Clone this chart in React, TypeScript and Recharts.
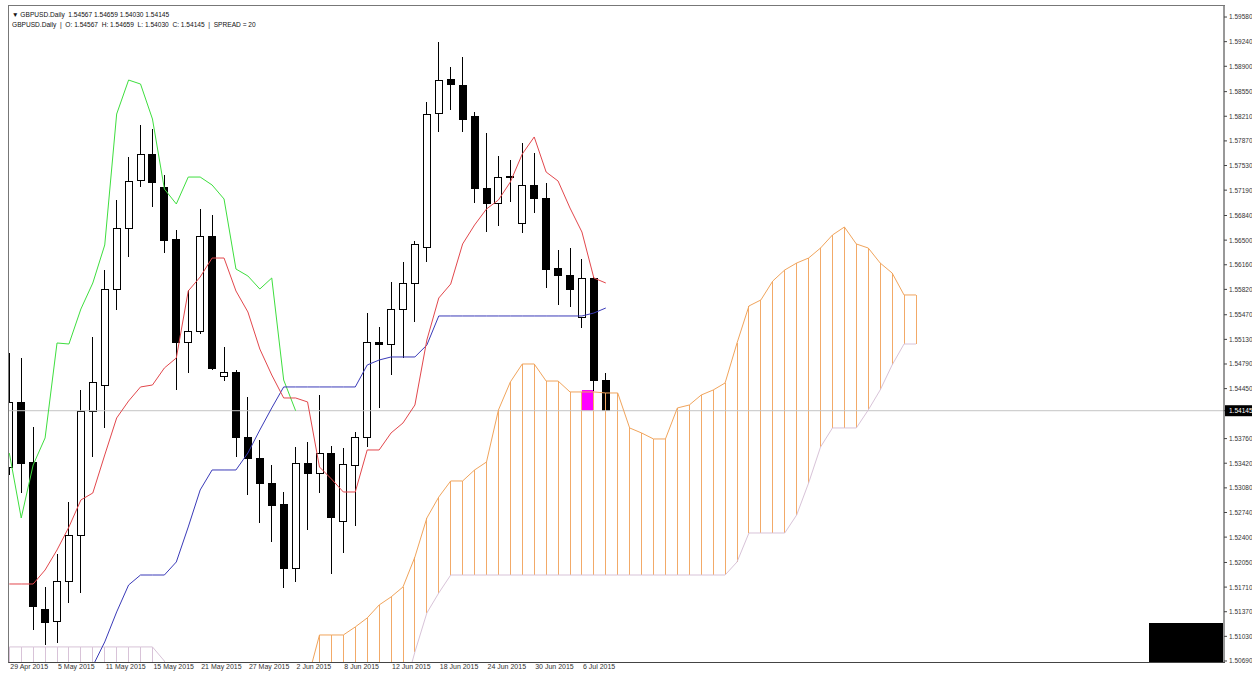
import React from 'react';
import { ComposedChart, Bar, Line, XAxis, YAxis, ReferenceLine, ReferenceArea } from 'recharts';

// ---- Date axis ----
const dateLabels = ['29 Apr 2015', '5 May 2015', '11 May 2015', '15 May 2015', '21 May 2015', '27 May 2015', '2 Jun 2015', '8 Jun 2015', '12 Jun 2015', '18 Jun 2015', '24 Jun 2015', '30 Jun 2015', '6 Jul 2015'];
const dateTickBars = [0, 4, 8, 12, 16, 20, 24, 28, 32, 36, 40, 44, 48];

// ---- Daily candles (bar 0 = 29 Apr 2015) ----
const openPrices = [1.53368, 1.54252, 1.53437, 1.51394, 1.51229, 1.51781, 1.52416, 1.54141, 1.54500, 1.55812, 1.56654, 1.57330, 1.57689, 1.57233, 1.56502, 1.55080, 1.55232, 1.56557, 1.54611, 1.54666, 1.53782, 1.53492, 1.53147, 1.52857, 1.51960, 1.53410, 1.53285, 1.53561, 1.52609, 1.53382, 1.53769, 1.55080, 1.55066, 1.55549, 1.55908, 1.56405, 1.58255, 1.58724, 1.58641, 1.58200, 1.57206, 1.56999, 1.57385, 1.56736, 1.57261, 1.57068, 1.56115, 1.56005, 1.55425, 1.55977, 1.54567];
const highPrices = [1.54942, 1.54873, 1.53920, 1.51712, 1.52167, 1.52885, 1.54431, 1.55163, 1.56088, 1.57054, 1.57647, 1.58089, 1.58034, 1.57399, 1.56640, 1.55812, 1.56930, 1.56847, 1.55025, 1.54707, 1.54335, 1.53741, 1.53396, 1.53023, 1.53644, 1.53713, 1.54362, 1.53658, 1.53631, 1.53851, 1.55494, 1.55301, 1.55922, 1.56198, 1.56488, 1.58407, 1.59235, 1.58890, 1.59028, 1.58269, 1.57979, 1.57661, 1.57606, 1.57841, 1.57703, 1.57289, 1.56364, 1.56391, 1.56239, 1.55991, 1.54659];
const lowPrices = [1.53258, 1.53009, 1.51118, 1.50911, 1.50939, 1.51491, 1.51629, 1.53506, 1.53907, 1.55535, 1.56267, 1.57233, 1.56957, 1.56322, 1.54431, 1.54666, 1.55204, 1.54707, 1.54555, 1.53506, 1.52982, 1.52595, 1.52333, 1.51698, 1.51781, 1.52499, 1.53009, 1.51891, 1.52181, 1.52554, 1.53644, 1.54183, 1.54638, 1.54873, 1.55370, 1.56198, 1.57993, 1.58296, 1.57993, 1.57012, 1.56612, 1.56695, 1.57026, 1.56598, 1.56874, 1.55839, 1.55604, 1.55577, 1.55287, 1.54417, 1.54030];
const closePrices = [1.54252, 1.53423, 1.51436, 1.51215, 1.51781, 1.52416, 1.54141, 1.54528, 1.55812, 1.56654, 1.57316, 1.57689, 1.57302, 1.56488, 1.55080, 1.55232, 1.56557, 1.54721, 1.54666, 1.53769, 1.53492, 1.53147, 1.52830, 1.51960, 1.53410, 1.53285, 1.53561, 1.52664, 1.53396, 1.53769, 1.55080, 1.55066, 1.55549, 1.55908, 1.56433, 1.58241, 1.58710, 1.58655, 1.58172, 1.57206, 1.56999, 1.57371, 1.57371, 1.57261, 1.57068, 1.56101, 1.56005, 1.55825, 1.55977, 1.54569, 1.54145];

// ---- Ichimoku lines ----
const tenkanSen = [1.51753, 1.51753, 1.51753, 1.51946, 1.52223, 1.52540, 1.52913, 1.53009, 1.53534, 1.54045, 1.54279, 1.54473, 1.54500, 1.54735, 1.54873, 1.55798, 1.55991, 1.56253, 1.56253, 1.55798, 1.55508, 1.54997, 1.54638, 1.54321, 1.54321, 1.54266, 1.53368, 1.53203, 1.53023, 1.53023, 1.53603, 1.53603, 1.53838, 1.53976, 1.54224, 1.55121, 1.55701, 1.55894, 1.56447, 1.56709, 1.56930, 1.57054, 1.57302, 1.57689, 1.57924, 1.57440, 1.57316, 1.56943, 1.56612, 1.55977, 1.55908];
const kijunStart = 7;
const kijunSen = [1.50621, 1.50953, 1.51367, 1.51739, 1.51877, 1.51877, 1.51877, 1.52057, 1.52540, 1.53051, 1.53327, 1.53327, 1.53327, 1.53561, 1.53879, 1.54183, 1.54473, 1.54473, 1.54473, 1.54473, 1.54473, 1.54473, 1.54473, 1.54776, 1.54845, 1.54887, 1.54887, 1.54887, 1.55052, 1.55453, 1.55453, 1.55453, 1.55453, 1.55453, 1.55453, 1.55453, 1.55453, 1.55453, 1.55453, 1.55453, 1.55453, 1.55453, 1.55494, 1.55563];
const chikouSpan = [1.53561, 1.52664, 1.53396, 1.53769, 1.55080, 1.55066, 1.55549, 1.55908, 1.56433, 1.58241, 1.58710, 1.58655, 1.58172, 1.57206, 1.56999, 1.57371, 1.57371, 1.57261, 1.57068, 1.56101, 1.56005, 1.55825, 1.55977, 1.54569, 1.54145];
const senkouAStart = 25;
const senkouA = [1.50428, 1.51049, 1.51049, 1.51049, 1.51160, 1.51284, 1.51463, 1.51574, 1.51712, 1.52126, 1.52664, 1.52954, 1.53175, 1.53175, 1.53327, 1.53437, 1.54155, 1.54542, 1.54790, 1.54790, 1.54555, 1.54555, 1.54404, 1.54404, 1.54404, 1.54390, 1.54390, 1.53907, 1.53838, 1.53755, 1.53755, 1.54183, 1.54224, 1.54362, 1.54431, 1.54528, 1.55080, 1.55591, 1.55674, 1.55936, 1.56088, 1.56184, 1.56253, 1.56391, 1.56571, 1.56681, 1.56447, 1.56391, 1.56184, 1.56046, 1.55743, 1.55743];
const senkouBLeft = [1.50884, 1.50884, 1.50884, 1.50884, 1.50884, 1.50884, 1.50884, 1.50884, 1.50884, 1.50884, 1.50884, 1.50884, 1.50884, 1.50690];
const senkouBRightStart = 33;
const senkouBRight = [1.50221, 1.50815, 1.51353, 1.51629, 1.51877, 1.51877, 1.51877, 1.51877, 1.51877, 1.51877, 1.51877, 1.51877, 1.51877, 1.51877, 1.51877, 1.51877, 1.51877, 1.51877, 1.51877, 1.51877, 1.51877, 1.51877, 1.51877, 1.51877, 1.51877, 1.51877, 1.51877, 1.51877, 1.52057, 1.52457, 1.52457, 1.52457, 1.52457, 1.52706, 1.53147, 1.53644, 1.53907, 1.53907, 1.53907, 1.54155, 1.54431, 1.54776, 1.55066, 1.55066];
const cloudBars = 77;

// ---- Price axis ----
const priceTicks = [1.59580, 1.59240, 1.58900, 1.58550, 1.58210, 1.57870, 1.57530, 1.57190, 1.56840, 1.56500, 1.56160, 1.55820, 1.55470, 1.55130, 1.54790, 1.54450, 1.54145, 1.53760, 1.53420, 1.53080, 1.52740, 1.52400, 1.52050, 1.51710, 1.51370, 1.51030, 1.50690];
const lastPrice = 1.54145;
const markerTop = 1.54431;
const markerBars = [48, 49];
const yDomain = [1.50676, 1.59746];
const xDomain = [-0.109, 101.82];

const FONT = '"Liberation Sans", Arial, sans-serif';
const SANDY_LINE = '#f0a45c';
const SANDY_HATCH = '#f2aa68';
const THISTLE = '#d8c3d8';

const rows = Array.from({ length: cloudBars }, (_, i) => {
  const hasCandle = i < openPrices.length;
  const a = i >= senkouAStart ? senkouA[i - senkouAStart] : null;
  let b: number | null = null;
  if (i < senkouBLeft.length) b = senkouBLeft[i];
  else if (i >= senkouBRightStart) b = senkouBRight[i - senkouBRightStart];
  const vals = [a, b].filter((v) => v != null) as number[];
  let cloud: number[] | null = null;
  if (vals.length) {
    const hi = Math.max(...vals);
    const lo = vals.length === 2 ? Math.max(Math.min(...vals), yDomain[0]) : yDomain[0];
    if (hi > yDomain[0]) cloud = [lo, hi];
  }
  const aboveB = a != null && (b == null || a >= b);
  return {
    i,
    o: hasCandle ? openPrices[i] : null,
    h: hasCandle ? highPrices[i] : null,
    l: hasCandle ? lowPrices[i] : null,
    c: hasCandle ? closePrices[i] : null,
    candle: hasCandle ? [lowPrices[i], highPrices[i]] : null,
    tenkan: hasCandle ? tenkanSen[i] : null,
    kijun: hasCandle && i >= kijunStart ? kijunSen[i - kijunStart] : null,
    chikou: i < chikouSpan.length ? chikouSpan[i] : null,
    sa: a,
    sb: b,
    cloudUp: cloud && aboveB ? cloud : null,
    cloudDn: cloud && !aboveB ? cloud : null,
  };
});

const Candle = (props: any) => {
  const { x, y, width, height, payload } = props;
  if (!payload || payload.o == null || height == null || isNaN(y)) return null;
  const top = Math.min(y, y + height);
  const bot = Math.max(y, y + height);
  const ppp = (bot - top) / (payload.h - payload.l);
  const bTop = top + (payload.h - Math.max(payload.o, payload.c)) * ppp;
  const bBot = top + (payload.h - Math.min(payload.o, payload.c)) * ppp;
  const cx = Math.floor(x + width / 2) + 0.5;
  const left = Math.round(x) + 0.5;
  const bull = payload.c > payload.o;
  return (
    <g shapeRendering="crispEdges">
      <line x1={cx} x2={cx} y1={top} y2={bot} stroke="#000" strokeWidth={1} />
      <rect x={left} y={bTop} width={width - 1} height={Math.max(bBot - bTop, 0.5)} fill={bull ? '#fff' : '#000'} stroke="#000" strokeWidth={1} />
    </g>
  );
};

const makeHatch = (color: string) => (props: any) => {
  const { x, y, width, height } = props;
  if (height == null || isNaN(y) || !height) return null;
  const cx = Math.floor(x + width / 2) + 0.5;
  return <line x1={cx} x2={cx} y1={y} y2={y + height} stroke={color} strokeWidth={1} shapeRendering="crispEdges" />;
};
const HatchUp = makeHatch(SANDY_HATCH);
const HatchDn = makeHatch(THISTLE);

const PriceTick = (props: any) => {
  const { x, y, payload } = props;
  const v = payload.value;
  const label = v.toFixed(5);
  if (Math.abs(v - lastPrice) < 1e-7) {
    return (
      <g>
        <rect x={x - 4} y={y - 5.5} width={30} height={11} fill="#000" />
        <text x={x} y={y} dy={2.4} fill="#fff" fontSize={6.5} fontFamily={FONT}>{label}</text>
      </g>
    );
  }
  return <text x={x} y={y} dy={2.4} fill="#333" fontSize={6.5} fontFamily={FONT}>{label}</text>;
};

const DateTick = (props: any) => {
  const { x, y, payload } = props;
  const idx = dateTickBars.indexOf(payload.value);
  if (idx < 0) return null;
  const baseline = Math.min(y + 2.5, 669);
  return <text x={x + 1} y={baseline} fill="#333" fontSize={7} fontFamily={FONT}>{dateLabels[idx]}</text>;
};

export default function App() {
  return (
    <div style={{ position: 'absolute', left: 0, top: 0, width: 1252, height: 673, background: '#fff', overflow: 'hidden' }}>
      <ComposedChart width={1252} height={673} data={rows} margin={{ top: 5, right: 0, bottom: 0, left: 8 }}>
        <XAxis xAxisId="x" dataKey="i" type="number" domain={xDomain} allowDataOverflow ticks={dateTickBars} interval={0} tick={<DateTick />} tickSize={3} tickMargin={1} axisLine={false} tickLine={{ stroke: '#444' }} height={11} />
        <XAxis xAxisId="c" dataKey="i" type="number" domain={xDomain} allowDataOverflow hide />
        <XAxis xAxisId="d" dataKey="i" type="number" domain={xDomain} allowDataOverflow hide />
        <YAxis orientation="right" type="number" domain={yDomain} allowDataOverflow ticks={priceTicks} interval={0} tick={<PriceTick />} tickSize={3} tickMargin={2} axisLine={{ stroke: '#333' }} tickLine={{ stroke: '#444' }} width={28} />
        <ReferenceLine xAxisId="x" y={lastPrice} stroke="#c4c4c4" strokeWidth={1} />
        <Bar xAxisId="x" dataKey="candle" barSize={8} shape={<Candle />} isAnimationActive={false} />
        <Bar xAxisId="c" dataKey="cloudUp" barSize={2} shape={<HatchUp />} isAnimationActive={false} />
        <Bar xAxisId="d" dataKey="cloudDn" barSize={2} shape={<HatchDn />} isAnimationActive={false} />
        <Line xAxisId="x" dataKey="sa" stroke={SANDY_LINE} strokeWidth={1} dot={false} isAnimationActive={false} connectNulls={false} />
        <Line xAxisId="x" dataKey="sb" stroke={THISTLE} strokeWidth={1} dot={false} isAnimationActive={false} connectNulls={false} />
        <ReferenceArea xAxisId="x" x1={markerBars[0]} x2={markerBars[1]} y1={lastPrice} y2={markerTop} fill="#ff00ff" fillOpacity={1} stroke="none" />
        <Line xAxisId="x" dataKey="chikou" stroke="#3ede3e" strokeWidth={1} dot={false} isAnimationActive={false} connectNulls={false} />
        <Line xAxisId="x" dataKey="kijun" stroke="#3a3ab8" strokeWidth={1} dot={false} isAnimationActive={false} connectNulls={false} />
        <Line xAxisId="x" dataKey="tenkan" stroke="#e2474c" strokeWidth={1} dot={false} isAnimationActive={false} connectNulls={false} />
      </ComposedChart>
      <div style={{ position: 'absolute', left: 8, top: 5, width: 1217, height: 658, boxSizing: 'border-box', borderLeft: '1px solid #777', borderTop: '1px solid #777', borderBottom: '1px solid #444', pointerEvents: 'none' }} />
      <div style={{ position: 'absolute', left: 1149, top: 623, width: 74, height: 39, background: '#000' }} />
      <div style={{ position: 'absolute', left: 12, top: 10, fontFamily: FONT, fontSize: 6.6, lineHeight: '10px', whiteSpace: 'pre', color: '#111' }}>
        <div>{'\u25BC GBPUSD.Daily  1.54567 1.54659 1.54030 1.54145'}</div>
        <div>{'GBPUSD.Daily  |  O: 1.54567  H: 1.54659  L: 1.54030  C: 1.54145  |  SPREAD = 20'}</div>
      </div>
    </div>
  );
}
